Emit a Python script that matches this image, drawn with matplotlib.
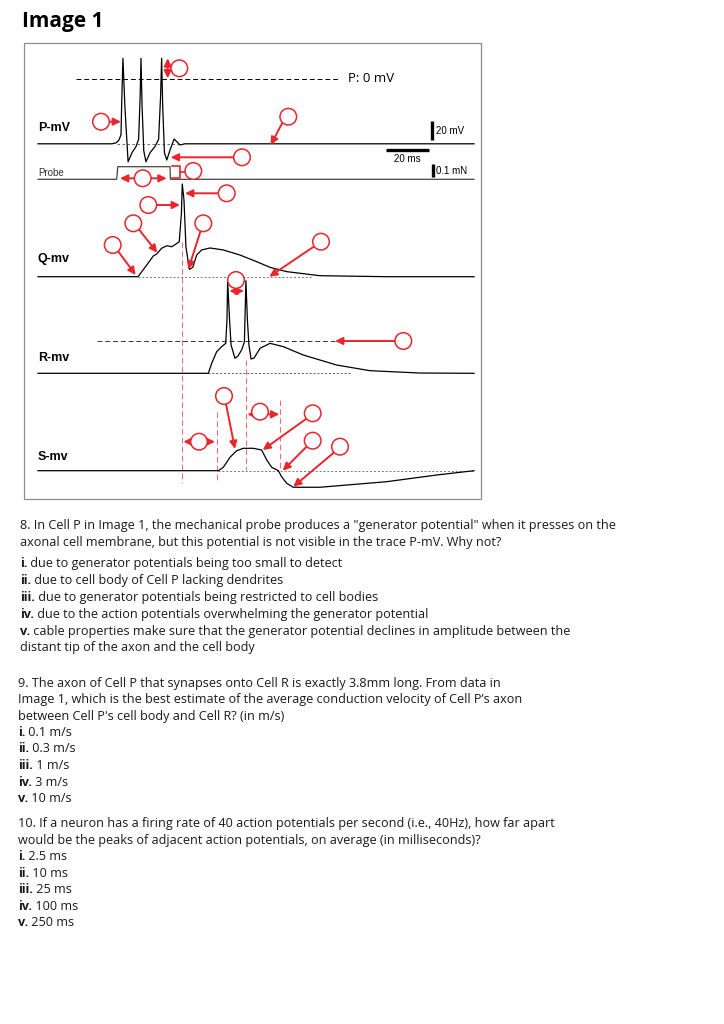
import numpy as np
import matplotlib
matplotlib.use("Agg")
import matplotlib.pyplot as plt
from matplotlib.patches import Circle, Rectangle

# ---- trace data (time in ms, value in mV / mN) ----
p_t = [0, 34.4, 36.3, 37.6, 38.6, 39.0, 39.5, 40.4, 41.9, 43.7, 45.6, 46.8, 47.5, 47.9,
       48.4, 49.2, 50.2, 52.1, 54.4, 56.1, 57.0, 57.5, 58.0, 58.8, 59.9, 61.4, 63.3, 64.7, 66.0, 68.4, 202.8]
p_mv = [-72, -72, -71, -68, -62, -20, 23, -30, -92, -82, -75, -67, -20, 23,
        -30, -80, -92, -82, -75, -67, -20, 23, -30, -82, -90, -79, -66.7, -70, -73.3, -72, -72]

probe_t = [0, 36.6, 37.1, 61.4, 61.6, 202.8]
probe_mn = [0, 0, 0.097, 0.097, 0, 0]

q_t = [0, 46.5, 50.6, 53.6, 55.2, 57.5, 59.9, 62.2, 64.2, 65.7, 66.7, 67.1, 67.9, 68.8, 70.4,
       72.0, 73.8, 76.1, 80.0, 86.2, 93.9, 101.7, 107.9, 115.7, 131.2, 162.2, 202.8]
q_mv = [0, 0, 13, 23, 25.2, 31.6, 34.4, 33.3, 36.3, 38.9, 70.4, 103, 85.2, 33.3, 8.2,
        10.4, 24.1, 29.7, 31.9, 29.7, 24.1, 16.7, 10.4, 5.6, 1.1, 0, 0]

r_t = [0, 79.2, 80.8, 83.1, 85.4, 87.3, 87.9, 88.2, 89.1, 89.8, 91.6, 93.0, 94.7, 96.0, 96.7,
       97.4, 98.1, 99.1, 100.5, 103.3, 107.9, 114.1, 123.4, 138.9, 154.4, 177.7, 202.8]
r_mv = [0, 0, 11.1, 24, 29.6, 33.3, 59.2, 102.9, 59.2, 31.4, 16.7, 19.2, 25.9, 34.8, 102.9,
        59.2, 31.4, 15.9, 17, 27.8, 33.3, 29.6, 20.3, 9.2, 2.9, 0.3, 0]

s_t = [0, 83.9, 86.2, 89.3, 92.4, 95.5, 100.1, 104.0, 106.4, 108.7, 111.8, 113.3, 115.7,
       118.7, 131.2, 162.2, 185.4, 202.8]
s_mv = [0, 0, 3.8, 14.9, 22.2, 24.9, 24.9, 23, 11.9, 3.8, 0, -6.7, -14, -18.4, -18.4, -12.2, -4.8, 0]

r_threshold = 35.9
marker_times = [67.1, 83.4, 96.7, 112.6]

questions = [
    ("8. In Cell P in Image 1, the mechanical probe produces a \"generator potential\" when it presses on the",
     "axonal cell membrane, but this potential is not visible in the trace P-mV. Why not?"),
    ("9. The axon of Cell P that synapses onto Cell R is exactly 3.8mm long. From data in",
     "Image 1, which is the best estimate of the average conduction velocity of Cell P\u2019s axon",
     "between Cell P's cell body and Cell R? (in m/s)"),
    ("10. If a neuron has a firing rate of 40 action potentials per second (i.e., 40Hz), how far apart",
     "would be the peaks of adjacent action potentials, on average (in milliseconds)?"),
]
q8_opts = [("i.", " due to generator potentials being too small to detect"),
           ("ii.", " due to cell body of Cell P lacking dendrites"),
           ("iii.", " due to generator potentials being restricted to cell bodies"),
           ("iv.", " due to the action potentials overwhelming the generator potential"),
           ("v.", " cable properties make sure that the generator potential declines in amplitude between the")]
q8_tail = "distant tip of the axon and the cell body"
q9_opts = [("i.", " 0.1 m/s"), ("ii.", " 0.3 m/s"), ("iii.", " 1 m/s"), ("iv.", " 3 m/s"), ("v.", " 10 m/s")]
q10_opts = [("i.", " 2.5 ms"), ("ii.", " 10 ms"), ("iii.", " 25 ms"), ("iv.", " 100 ms"), ("v.", " 250 ms")]

# ---- layout (pixels) ----
X0, PX_MS, PX_MV, PX_MN = 38, 2.15, 0.9, 130
P_ZERO_Y, PROBE_Y, Q_Y, R_Y, S_Y = 79, 179.3, 276.7, 373.3, 470.7
RED = "#e8262b"
RED_L = "#f07070"

fig = plt.figure(figsize=(7.24, 10.24), dpi=100)
ax = fig.add_axes([0, 0, 1, 1])
ax.set_xlim(0, 724)
ax.set_ylim(1024, 0)
ax.axis("off")


def tx(t):
    return X0 + np.asarray(t, dtype=float) * PX_MS


def trace(t, v, base, scale=PX_MV, color="black"):
    ax.plot(tx(t), base - np.asarray(v, dtype=float) * scale, color=color, lw=0.9,
            solid_joinstyle="round", zorder=3)


ax.add_patch(Rectangle((23.5, 42.5), 457.5, 456.5, fill=False, ec="#8c8c8c", lw=0.9))

trace(p_t, p_mv, P_ZERO_Y)
trace(probe_t, probe_mn, PROBE_Y, scale=PX_MN, color="#444")
trace(q_t, q_mv, Q_Y)
trace(r_t, r_mv, R_Y)
trace(s_t, s_mv, S_Y)

# reference lines
ax.plot([76, 340], [P_ZERO_Y, P_ZERO_Y], color="black", lw=0.7, ls=(0, (5, 3)))
ax.plot([117, 180], [P_ZERO_Y + 72 * PX_MV] * 2, color="#555", lw=0.6, ls=(0, (3, 3)))
ax.plot([138, 312], [Q_Y, Q_Y], color="#777", lw=0.7, ls=(0, (2, 2)))
ax.plot([97, 335], [R_Y - r_threshold * PX_MV] * 2, color="#333", lw=0.7, ls=(0, (5, 3)))
ax.plot([208, 350], [R_Y, R_Y], color="#555", lw=0.7, ls=(0, (2, 2)))
ax.plot([218, 474], [S_Y, S_Y], color="#777", lw=0.7, ls=(0, (2, 2)))

# red marker lines
for t, (y0, y1) in zip(marker_times, [(241.7, 483), (411.7, 483), (360, 470), (400, 470)]):
    ax.plot([tx(t), tx(t)], [y0, y1], color=RED_L, lw=0.8, ls=(0, (5, 3)), zorder=2)

# scale bars
ax.plot([432, 432], [121, 140], color="black", lw=2.4, solid_capstyle="butt")
ax.plot([386, 429], [150, 150], color="black", lw=2.4, solid_capstyle="butt")
ax.plot([433, 433], [164, 177], color="black", lw=2.4, solid_capstyle="butt")
lab = dict(family=["Liberation Sans", "DejaVu Sans"], fontsize=7, va="center")
ax.text(436, 131, "20 mV", **lab)
ax.text(407, 159.5, "20 ms", ha="center", **lab)
ax.text(436, 171, "0.1 mN", **lab)
ax.text(38, 173, "Probe", family=["Liberation Sans", "DejaVu Sans"], fontsize=7, va="center", color="#333")
ax.text(348, 78, "P: 0 mV", family=["Open Sans", "DejaVu Sans"], fontsize=9.5, va="center")
for y, s in [(128, "P-mV"), (259, "Q-mv"), (358, "R-mv"), (457, "S-mv")]:
    ax.text(38, y, s, family=["Liberation Sans", "DejaVu Sans"], fontsize=9, fontweight="bold", va="center")

# red annotations
circles = [(179.3, 68.3), (101, 121.7), (288.3, 116.7), (242, 157.3), (142.7, 178.3), (193.3, 171),
           (226.7, 193.3), (148.3, 205), (133.3, 223.3), (112.7, 245), (203.3, 223.3), (321, 241.7),
           (236, 280), (403.3, 341), (224, 396), (199, 441.7), (260, 411.7), (312.7, 413.3),
           (312.7, 440.7), (340, 446.7)]
single = [((109.3, 121.7), (121, 121.7)), ((282, 123.5), (270.7, 145)), ((233.7, 157.3), (170.7, 157.3)),
          ((218.4, 193.3), (185, 193.3)), ((156.6, 205), (180, 205)), ((139, 229.5), (157.3, 252.7)),
          ((118.3, 251.5), (135.7, 275)), ((200.5, 231.2), (188.3, 269.3)), ((314, 246.5), (269.3, 276.7)),
          ((395, 341), (335, 341)), ((226, 404), (235, 449)), ((306, 419), (262.7, 450)),
          ((306.7, 446.5), (282.7, 470.7)), ((334, 452.5), (293.3, 486.7))]
double = [((167.7, 58.3), (167.7, 78.3)), ((120, 178.3), (166.7, 178.3)), ((229.3, 291), (244, 291)),
          ((183.3, 441.7), (215, 441.7)), ((247.3, 414.3), (279.3, 414.3))]

for a, b in single:
    ax.annotate("", xy=b, xytext=a, zorder=4,
                arrowprops=dict(arrowstyle="-|>,head_length=0.45,head_width=0.22", color=RED, lw=1.4,
                                shrinkA=0, shrinkB=0))
for a, b in double:
    ax.annotate("", xy=b, xytext=a, zorder=4,
                arrowprops=dict(arrowstyle="<|-|>,head_length=0.45,head_width=0.22", color=RED, lw=1.4,
                                shrinkA=0, shrinkB=0))
ax.plot([171.7, 180, 180, 171.7], [166, 166, 178.3, 178.3], color=RED, lw=1.2, zorder=4)
ax.plot([180, 185], [172, 172], color=RED, lw=1.2, zorder=4)
for c in circles:
    ax.add_patch(Circle(c, 8.3, fc="white", ec=RED, lw=1.1, zorder=5))

# title and questions
ax.text(22, 22, "Image 1", family=["Open Sans", "DejaVu Sans"], fontsize=15, fontweight="bold", va="center")

TXT = dict(family=["Open Sans", "DejaVu Sans"], fontsize=9.1, va="baseline", color="#1a1a1a")
BASE = 4.0  # centre -> baseline offset in px
renderer = fig.canvas.get_renderer()


def line(x, y, s):
    ax.text(x, y + BASE, s, **TXT)


def opt_line(x, y, bold, rest):
    t = ax.text(x, y + BASE, bold, fontweight="bold", **TXT)
    w = t.get_window_extent(renderer).width
    ax.text(x + w, y + BASE, rest, **TXT)


for y, s in zip([525, 542], questions[0]):
    line(20, y, s)
for y, (b, r) in zip([563, 580, 597, 614, 631], q8_opts):
    opt_line(20, y, b, r)
line(20, 647.5, q8_tail)

for y, s in zip([683, 699.5, 716], questions[1]):
    line(18, y, s)
for y, (b, r) in zip([732, 748.5, 765, 781.5, 798], q9_opts):
    opt_line(18, y, b, r)

for y, s in zip([823.5, 840], questions[2]):
    line(18, y, s)
for y, (b, r) in zip([856.5, 873, 889, 905.5, 922], q10_opts):
    opt_line(18, y, b, r)

fig.savefig("out.png", dpi=100, facecolor="white")
